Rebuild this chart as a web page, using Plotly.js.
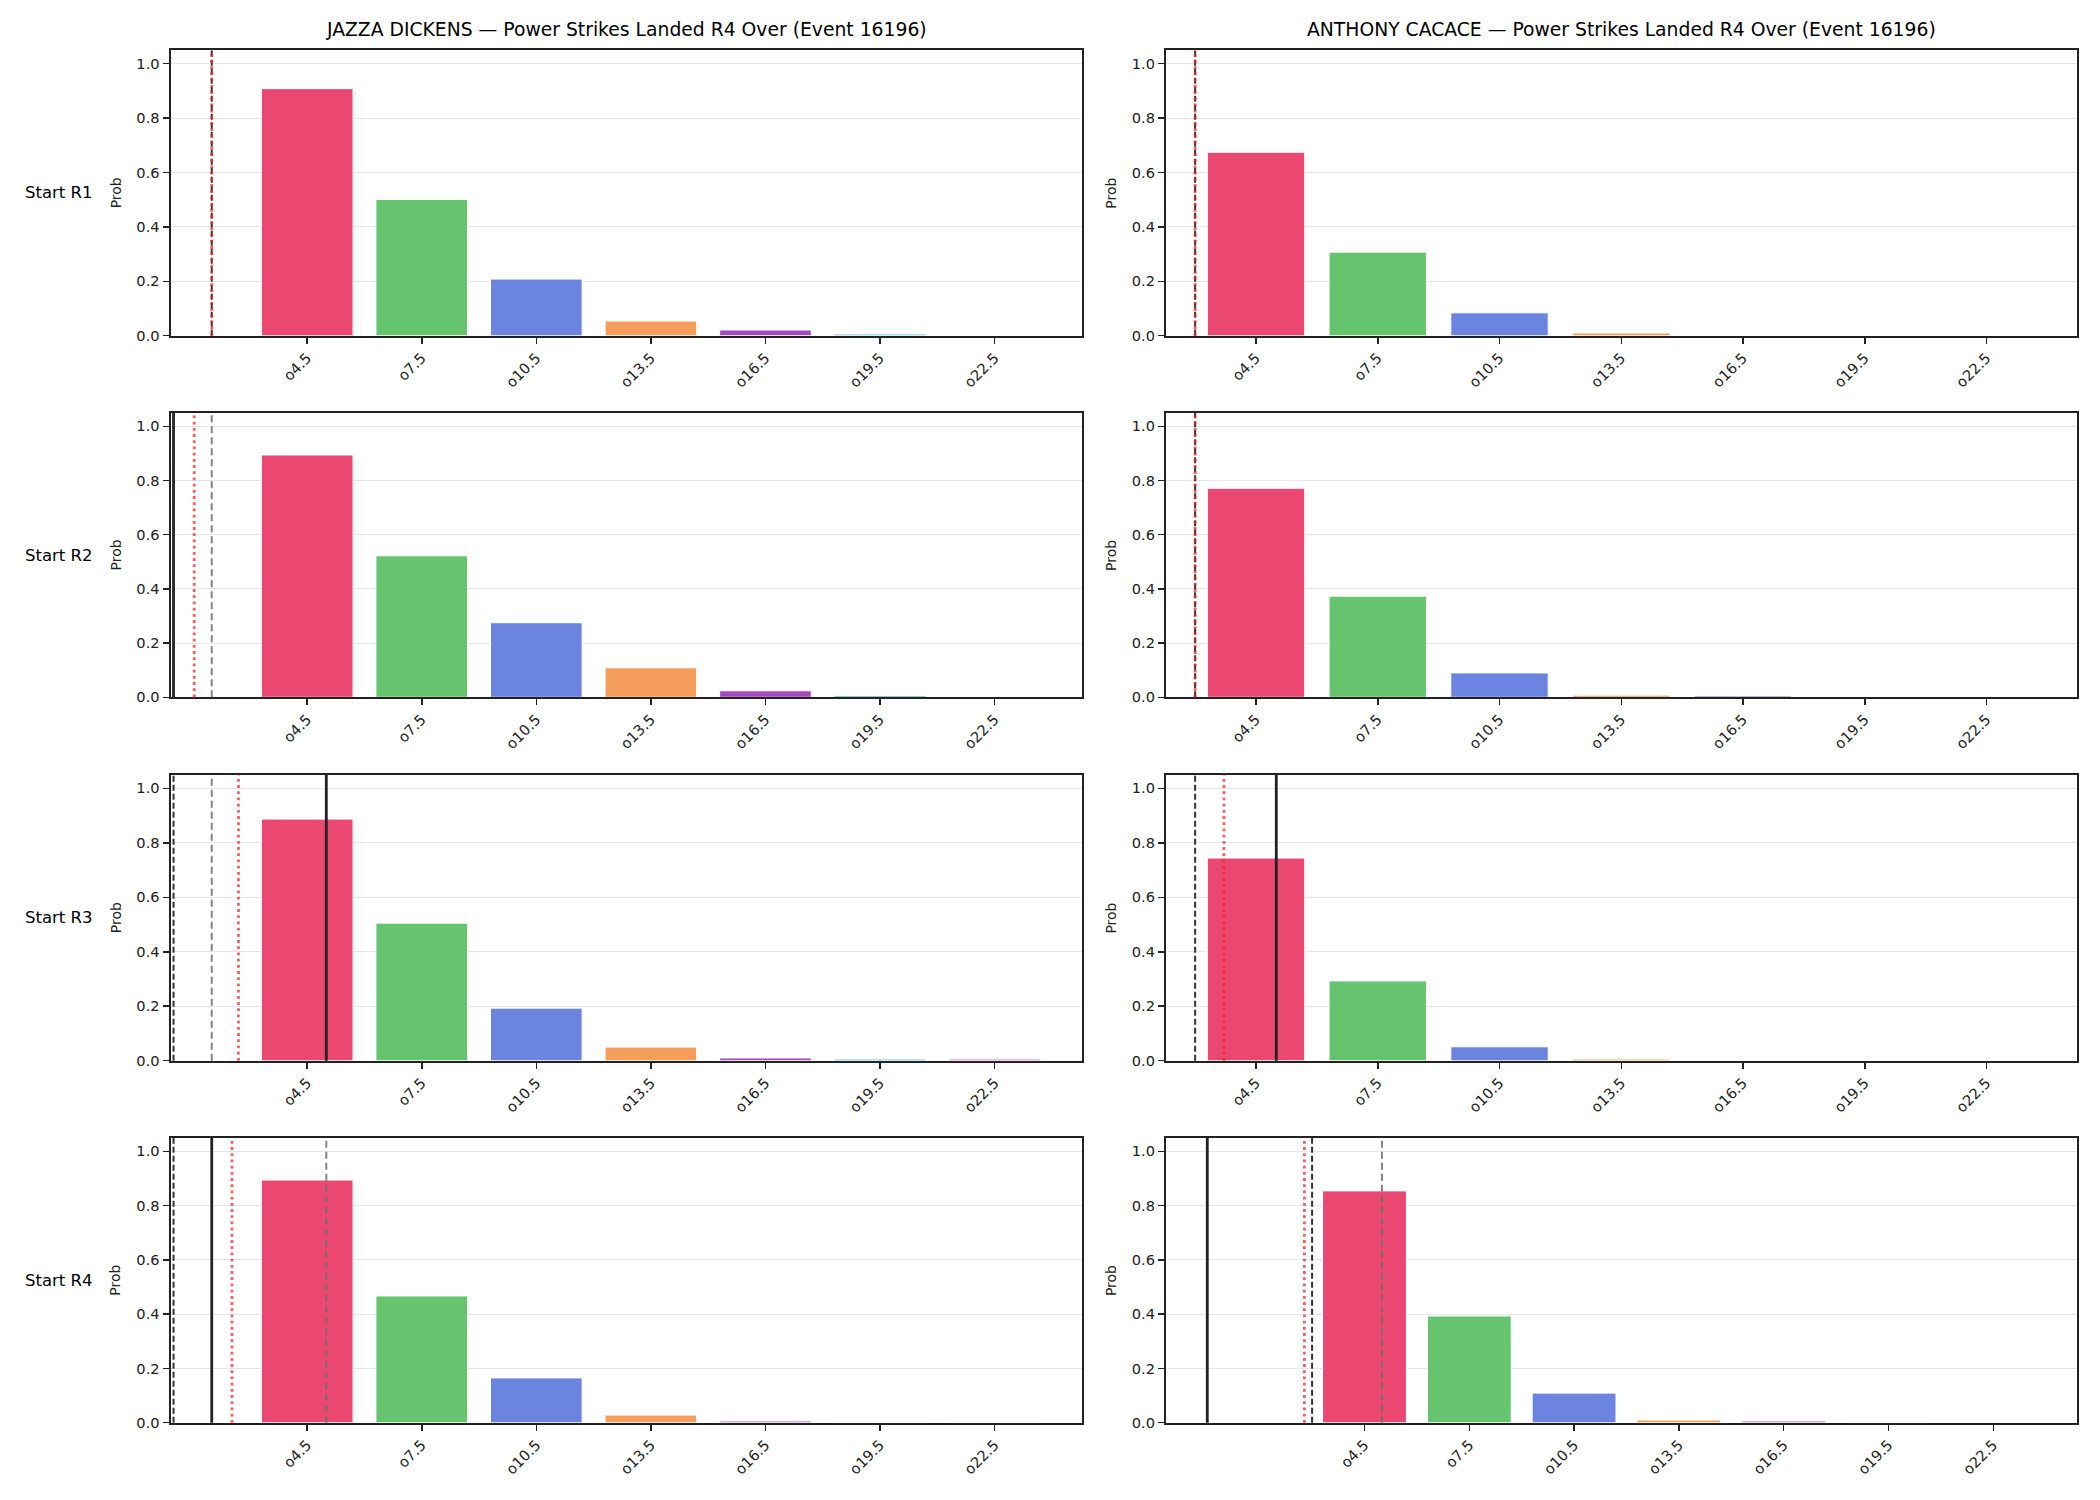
<!DOCTYPE html>
<html>
<head>
<meta charset="utf-8">
<script src="https://cdn.plot.ly/plotly-3.0.1.min.js"></script>
<style>html,body{margin:0;padding:0;background:#fff;}#chart{width:2100px;height:1500px;}</style>
</head>
<body>
<div id="chart"></div>
<script>
// ---------------- data ----------------
const fighters = ["JAZZA DICKENS", "ANTHONY CACACE"];
const titleSuffix = " — Power Strikes Landed R4 Over (Event 16196)";
const roundLabels = ["Start R1", "Start R2", "Start R3", "Start R4"];
const overLabels = ["o4.5", "o7.5", "o10.5", "o13.5", "o16.5", "o19.5", "o22.5"];
const barColors = ["#EA4870", "#66C46E", "#6B84E0", "#F59E5C", "#A449C0", "#47B5D5", "#D050C8"];

const jazzaR1 = [0.908, 0.501, 0.208, 0.054, 0.021, 0.006, 0.001];
const jazzaR2 = [0.894, 0.522, 0.275, 0.109, 0.024, 0.006, 0.001];
const jazzaR3 = [0.887, 0.505, 0.193, 0.050, 0.010, 0.006, 0.006];
const jazzaR4 = [0.894, 0.467, 0.165, 0.028, 0.006, 0.001, 0.0005];
const cacaceR1 = [0.674, 0.307, 0.084, 0.010, 0.001, 0.0, 0.0];
const cacaceR2 = [0.771, 0.373, 0.090, 0.008, 0.005, 0.0005, 0.0];
const cacaceR3 = [0.744, 0.293, 0.051, 0.006, 0.001, 0.0, 0.0];
const cacaceR4 = [0.854, 0.393, 0.109, 0.010, 0.006, 0.001, 0.0];

// vertical reference lines per round (null = not drawn)
const jazzaSolid  = [null, 1.0, 5.0, 2.0];
const jazzaDashed = [2.0, 1.0, 1.0, 1.0];
const jazzaDotted = [2.0, 1.54, 2.7, 2.53];
const jazzaGray   = [null, 2.0, 2.0, 5.0];
const cacaceSolid  = [null, null, 5.0, 0.0];
const cacaceDashed = [3.0, 3.0, 3.0, 3.0];
const cacaceDotted = [3.0, 3.0, 3.71, 2.78];
const cacaceGray   = [null, null, null, 5.0];

// ---------------- layout helpers ----------------
const W = 2100, H = 1500;
const colX = [[170.5, 1082.4], [1165.9, 2076.6]];
const rowY = [[50, 335.7], [412.7, 697.3], [774.7, 1060.7], [1137.7, 1422.7]];
const xRanges = [
  [[0.92, 24.8], [2.28, 24.72]],
  [[0.92, 24.8], [2.28, 24.72]],
  [[0.92, 24.8], [2.28, 24.72]],
  [[0.92, 24.8], [-1.185, 24.885]]
];

const probs = [[jazzaR1, cacaceR1], [jazzaR2, cacaceR2], [jazzaR3, cacaceR3], [jazzaR4, cacaceR4]];
const lineSets = [
  {solid: jazzaSolid, dashed: jazzaDashed, dotted: jazzaDotted, gray: jazzaGray},
  {solid: cacaceSolid, dashed: cacaceDashed, dotted: cacaceDotted, gray: cacaceGray}
];
const xPos = overLabels.map(s => parseFloat(s.slice(1)));

const FONT = "DejaVu Sans, Liberation Sans, sans-serif";
const traces = [];
const layout = {
  width: W, height: H,
  margin: {l: 0, r: 0, t: 0, b: 0},
  paper_bgcolor: "#ffffff", plot_bgcolor: "#ffffff",
  showlegend: false,
  font: {family: FONT, color: "#222222", size: 14.6},
  shapes: [], annotations: [], bargap: 0
};

for (let r = 0; r < 4; r++) {
  for (let c = 0; c < 2; c++) {
    const idx = r * 2 + c + 1;
    const xa = idx === 1 ? "x" : "x" + idx;
    const ya = idx === 1 ? "y" : "y" + idx;
    const xKey = idx === 1 ? "xaxis" : "xaxis" + idx;
    const yKey = idx === 1 ? "yaxis" : "yaxis" + idx;
    traces.push({
      type: "bar", x: xPos, y: probs[r][c], width: 2.4,
      xaxis: xa, yaxis: ya,
      marker: {color: barColors, line: {color: "#ffffff", width: 1}},
      hoverinfo: "x+y"
    });
    layout[xKey] = {
      domain: [colX[c][0] / W, colX[c][1] / W],
      anchor: ya, range: xRanges[r][c],
      tickmode: "array", tickvals: xPos, ticktext: overLabels, tickangle: -45,
      ticks: "outside", ticklen: 6, tickwidth: 1.5, tickcolor: "#222222",
      showline: true, mirror: true, linecolor: "#222222", linewidth: 2,
      showgrid: false, zeroline: false,
      tickfont: {family: FONT, size: 14.6, color: "#222222"}
    };
    layout[yKey] = {
      domain: [1 - rowY[r][1] / H, 1 - rowY[r][0] / H],
      anchor: xa, range: [0, 1.05],
      tickvals: [0, 0.2, 0.4, 0.6, 0.8, 1.0], tickformat: ".1f",
      ticks: "outside", ticklen: 6, tickwidth: 1.5, tickcolor: "#222222",
      showline: true, mirror: true, linecolor: "#222222", linewidth: 2,
      showgrid: true, gridcolor: "#e6e6e6", gridwidth: 1, zeroline: false,
      tickfont: {family: FONT, size: 14.6, color: "#222222"}
    };
    const ls = lineSets[c];
    const addLine = (v, color, width, dash) => {
      if (v === null || v === undefined) return;
      layout.shapes.push({
        type: "line", xref: xa, yref: ya + " domain",
        x0: v, x1: v, y0: 0, y1: 1, layer: "above",
        line: {color: color, width: width, dash: dash}
      });
    };
    addLine(ls.gray[r], "rgba(110,110,110,0.85)", 2, "7px,4px");
    addLine(ls.solid[r], "#222222", 2.8, "solid");
    addLine(ls.dashed[r], "#333333", 2, "6px,3px");
    addLine(ls.dotted[r], "rgba(255,30,30,0.72)", 2.8, "2.8px,3.4px");

    layout.annotations.push({
      text: "Prob", xref: "paper", yref: "paper",
      x: (colX[c][0] - 55) / W, y: 1 - (rowY[r][0] + rowY[r][1]) / 2 / H,
      xanchor: "center", yanchor: "middle", textangle: -90, showarrow: false,
      font: {family: FONT, size: 14, color: "#222222"}
    });
  }
  layout.annotations.push({
    text: roundLabels[r], xref: "paper", yref: "paper",
    x: 23 / W, y: 1 - (rowY[r][0] + rowY[r][1]) / 2 / H,
    xanchor: "left", yanchor: "middle", showarrow: false,
    font: {family: FONT, size: 16.5, color: "#000000"}
  });
}
for (let c = 0; c < 2; c++) {
  layout.annotations.push({
    text: fighters[c] + titleSuffix, xref: "paper", yref: "paper",
    x: (colX[c][0] + colX[c][1]) / 2 / W, y: 1 - 29.5 / H,
    xanchor: "center", yanchor: "middle", showarrow: false,
    font: {family: FONT, size: 18.75, color: "#000000"}
  });
}

Plotly.newPlot("chart", traces, layout, {displayModeBar: false, staticPlot: true});
</script>
</body>
</html>
